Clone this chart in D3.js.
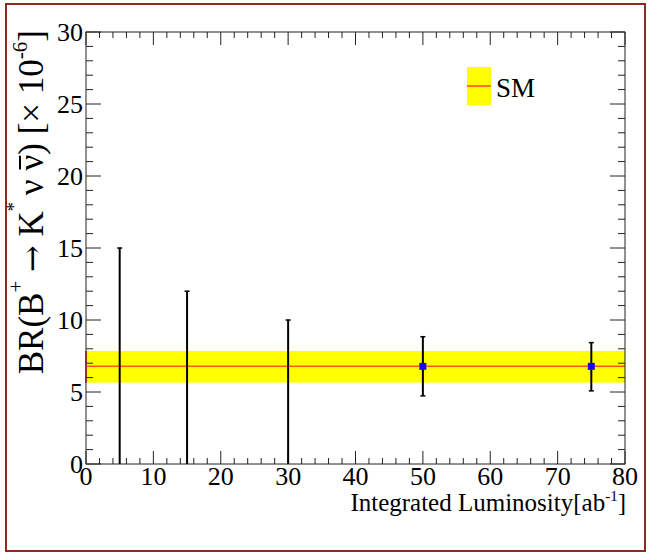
<!DOCTYPE html>
<html>
<head>
    <title>BR vs Integrated Luminosity</title>
    <script src="https://d3js.org/d3.v7.min.js"></script>
    <style>
        body { margin: 0; background: #fff; }
        svg text { font-family: "Liberation Serif", "Times New Roman", "DejaVu Serif", serif; fill: #000; }
    </style>
</head>
<body>
    <div id="chart"></div>

    <script>
        // luminosity points [ab^-1]
        var lumi = [5, 15, 30, 50, 75];
        // central value (0 = upper limit only, no marker)
        var central = [0, 0, 0, 6.78, 6.78];
        var errLow = [0, 0, 0, 2.05, 1.7];
        var errHigh = [15, 12, 10, 2.06, 1.65];

        // SM prediction band
        var smValue = 6.78;
        var smLow = 5.65;
        var smHigh = 7.85;

        var xTicks = [0, 10, 20, 30, 40, 50, 60, 70, 80];
        var yTicks = [0, 5, 10, 15, 20, 25, 30];

        var W = 650, H = 555;
        var margin = { top: 32, right: 25, bottom: 91, left: 86 };
        var width = W - margin.left - margin.right;
        var height = H - margin.top - margin.bottom;

        var svg = d3.select('#chart').append('svg')
            .attr('width', W)
            .attr('height', H);

        // outer frame
        svg.append('rect')
            .attr('x', 6).attr('y', 4)
            .attr('width', 639).attr('height', 547)
            .attr('fill', 'none')
            .attr('stroke', '#8b2a1f')
            .attr('stroke-width', 2);

        var g = svg.append('g')
            .attr('transform', 'translate(' + margin.left + ',' + margin.top + ')');

        var x = d3.scaleLinear().domain([0, 80]).range([0, width]);
        var y = d3.scaleLinear().domain([0, 30]).range([height, 0]);

        // SM band
        g.append('rect')
            .attr('x', x(0)).attr('y', y(smHigh))
            .attr('width', x(80) - x(0))
            .attr('height', y(smLow) - y(smHigh))
            .attr('fill', '#ffff00');
        g.append('line')
            .attr('x1', x(0)).attr('x2', x(0))
            .attr('y1', y(smHigh)).attr('y2', y(smLow))
            .attr('stroke', '#ff4a1a').attr('stroke-width', 2);
        g.append('line')
            .attr('x1', x(0)).attr('x2', x(80))
            .attr('y1', y(smValue)).attr('y2', y(smValue))
            .attr('stroke', '#ff5a14').attr('stroke-width', 1.5);

        // ticks, ROOT style on all four sides
        function tickLine(x1, y1, x2, y2) {
            g.append('line')
                .attr('x1', x1).attr('y1', y1).attr('x2', x2).attr('y2', y2)
                .attr('stroke', '#222').attr('stroke-width', 1);
        }
        d3.range(0, 31, 1).forEach(function(v) {
            var len = v % 5 === 0 ? 15 : 7;
            tickLine(0, y(v), len, y(v));
            tickLine(width, y(v), width - len, y(v));
        });
        d3.range(0, 81, 2).forEach(function(v) {
            var len = v % 10 === 0 ? 13 : 6;
            tickLine(x(v), height, x(v), height - len);
            tickLine(x(v), 0, x(v), len);
        });

        // frame of the pad
        g.append('rect')
            .attr('x', 0).attr('y', 0)
            .attr('width', width).attr('height', height)
            .attr('fill', 'none')
            .attr('stroke', '#222').attr('stroke-width', 1);

        // tick labels
        g.selectAll('.ylab').data(yTicks).enter().append('text')
            .attr('x', -3)
            .attr('y', function(d) { return y(d) + 9; })
            .attr('text-anchor', 'end')
            .style('font-size', '26px')
            .text(function(d) { return d; });
        g.selectAll('.xlab').data(xTicks).enter().append('text')
            .attr('x', function(d) { return x(d); })
            .attr('y', height + 21)
            .attr('text-anchor', 'middle')
            .style('font-size', '26px')
            .text(function(d) { return d; });

        // axis titles
        var xt = g.append('text')
            .attr('x', width + 1)
            .attr('y', height + 47)
            .attr('text-anchor', 'end')
            .style('font-size', '25px');
        xt.append('tspan').text('Integrated Luminosity[ab');
        xt.append('tspan').attr('dy', -10).style('font-size', '15px').text('-1');
        xt.append('tspan').attr('dy', 10).text(']');

        var ytG = svg.append('g')
            .attr('transform', 'translate(43,' + (margin.top - 2) + ') rotate(-90)');
        var yt = ytG.append('text')
            .attr('text-anchor', 'end')
            .style('font-size', '35px');
        yt.append('tspan').text('BR(B');
        yt.append('tspan').attr('dy', -20).style('font-size', '21px').text('+');
        yt.append('tspan').attr('dy', 20).text(' ');
        yt.append('tspan').style('font-family', '"DejaVu Serif", serif').style('font-size', '32px').text('\u2192');
        yt.append('tspan').text(' K');
        yt.append('tspan').attr('dy', -23).style('font-size', '18px').text('*');
        yt.append('tspan').attr('dy', 23).text('\u2009\u03bd ');
        yt.append('tspan').text('\u03bd');
        yt.append('tspan').text(') [\u00d7 10');
        yt.append('tspan').attr('dy', -16).style('font-size', '21px').text('-6');
        yt.append('tspan').attr('dy', 16).text(']');
        // bar over the anti-neutrino (char index 13)
        var nuBox = yt.node().getExtentOfChar(13);
        ytG.append('line')
            .attr('x1', nuBox.x + 1).attr('x2', nuBox.x + nuBox.width - 1)
            .attr('y1', -23).attr('y2', -23)
            .attr('stroke', '#000').attr('stroke-width', 2);

        // error bars
        lumi.forEach(function(l, i) {
            var lo = central[i] - errLow[i], hi = central[i] + errHigh[i];
            g.append('line')
                .attr('x1', x(l)).attr('x2', x(l))
                .attr('y1', y(lo)).attr('y2', y(hi))
                .attr('stroke', '#000').attr('stroke-width', 2);
            [lo, hi].forEach(function(v) {
                if (v <= 0) return;
                g.append('line')
                    .attr('x1', x(l) - 2.5).attr('x2', x(l) + 2.5)
                    .attr('y1', y(v)).attr('y2', y(v))
                    .attr('stroke', '#000').attr('stroke-width', 1.5);
            });
            if (central[i] > 0) {
                g.append('rect')
                    .attr('x', x(l) - 3.5).attr('y', y(central[i]) - 3.5)
                    .attr('width', 7).attr('height', 7)
                    .attr('fill', '#1a00ff');
            }
        });

        // legend
        svg.append('rect')
            .attr('x', 467).attr('y', 67)
            .attr('width', 24).attr('height', 38)
            .attr('fill', '#ffff00');
        svg.append('line')
            .attr('x1', 467).attr('x2', 491)
            .attr('y1', 86).attr('y2', 86)
            .attr('stroke', '#ff4a1a').attr('stroke-width', 1.5);
        svg.append('text')
            .attr('x', 496).attr('y', 97)
            .style('font-size', '27px')
            .text('SM');
    </script>
</body>
</html>
